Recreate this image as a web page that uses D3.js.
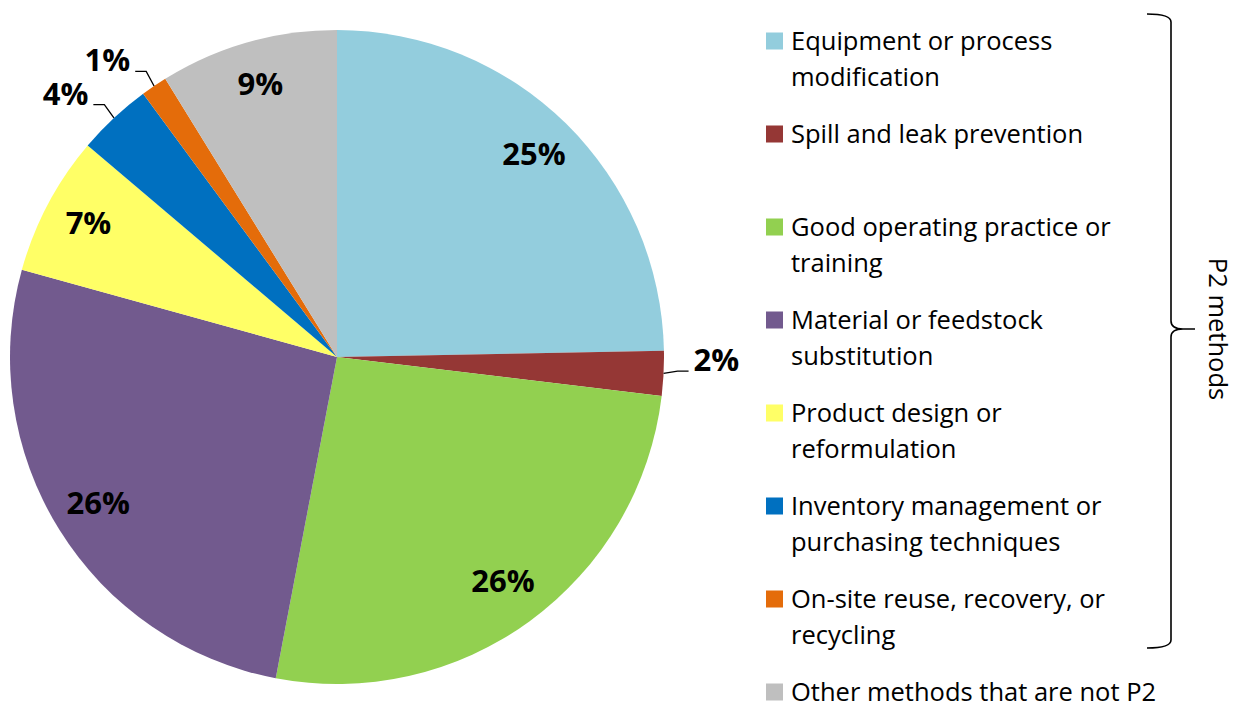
<!DOCTYPE html>
<html>
<head>
<meta charset="utf-8">
<script src="https://cdn.jsdelivr.net/npm/d3@7"></script>
<style>
  html, body { margin: 0; padding: 0; background: #fff; }
  svg { display: block; }
  text { font-family: "Open Sans", Lato, sans-serif; fill: #000; }
</style>
</head>
<body>
<svg id="chart" width="1238" height="704"></svg>
<script>
// ---- data ----
const categories = [
  "Equipment or process modification",
  "Spill and leak prevention",
  "Good operating practice or training",
  "Material or feedstock substitution",
  "Product design or reformulation",
  "Inventory management or purchasing techniques",
  "On-site reuse, recovery, or recycling",
  "Other methods that are not P2"
];
const legendLines = [
  ["Equipment or process", "modification"],
  ["Spill and leak prevention"],
  ["Good operating practice or", "training"],
  ["Material or feedstock", "substitution"],
  ["Product design or", "reformulation"],
  ["Inventory management or", "purchasing techniques"],
  ["On-site reuse, recovery, or", "recycling"],
  ["Other methods that are not P2"]
];
const values = [24.7, 2.2, 26.1, 26.3, 6.9, 3.7, 1.3, 8.8];
const labels = ["25%", "2%", "26%", "26%", "7%", "4%", "1%", "9%"];
const outsideLabel = [false, true, false, false, false, true, true, false];
const colors = ["#93CDDD", "#953735", "#92D050", "#725A8E", "#FFFF66", "#0070C0", "#E46C0A", "#BFBFBF"];
const bracketLabel = "P2 methods";

// ---- layout ----
const svg = d3.select("#chart");
const cx = 337, cy = 357, R = 327;

const pie = d3.pie().sort(null).value(d => d).startAngle(0).endAngle(2 * Math.PI);
const arcs = pie(values);
const arc = d3.arc().innerRadius(0).outerRadius(R);
const labelArc = d3.arc().innerRadius(R * 0.86).outerRadius(R * 0.86);

const g = svg.append("g").attr("transform", `translate(${cx},${cy})`);

g.selectAll("path.slice")
  .data(arcs)
  .enter().append("path")
  .attr("class", "slice")
  .attr("d", arc)
  .attr("fill", (d, i) => colors[i]);

// inside labels
g.selectAll("text.inlabel")
  .data(arcs.filter((d, i) => !outsideLabel[i]))
  .enter().append("text")
  .attr("class", "inlabel")
  .attr("transform", d => `translate(${labelArc.centroid(d)})`)
  .attr("text-anchor", "middle")
  .attr("dy", "0.27em")
  .style("font-size", "31px")
  .style("font-weight", "bold")
  .text(d => labels[d.index]);

// outside labels with leader lines
const outs = arcs.filter((d, i) => outsideLabel[i]);
outs.forEach(d => {
  const mid = (d.startAngle + d.endAngle) / 2;
  const p0 = [R * Math.sin(mid), -R * Math.cos(mid)];
  const re = R + 14;
  const p1 = [re * Math.sin(mid), -re * Math.cos(mid) - 3];
  const side = Math.sin(mid) >= 0 ? 1 : -1;
  const p2 = [p1[0] + side * 11, p1[1]];
  g.append("path")
    .attr("d", d3.line()([p0, p1, p2]))
    .attr("fill", "none")
    .attr("stroke", "#000")
    .attr("stroke-width", 1.3);
  g.append("text")
    .attr("x", p2[0] + side * 5)
    .attr("y", p2[1])
    .attr("text-anchor", side > 0 ? "start" : "end")
    .style("font-size", "31px")
    .style("font-weight", "bold")
    .text(labels[d.index]);
});

// ---- legend ----
const legendY = d3.scaleLinear().domain([0, categories.length - 1]).range([41, 692]);
const lg = svg.append("g");
const sw = 17, swX = 766, txX = 791, lineH = 36;
const items = lg.selectAll("g.item").data(categories).enter().append("g").attr("class", "item");
items.append("rect")
  .attr("x", swX)
  .attr("y", (d, i) => legendY(i) - sw / 2)
  .attr("width", sw).attr("height", sw)
  .attr("fill", (d, i) => colors[i]);
items.each(function(d, i) {
  const t = d3.select(this).append("text")
    .attr("x", txX)
    .attr("y", legendY(i) + 8.5)
    .style("font-size", "25.5px");
  legendLines[i].forEach((ln, k) => {
    t.append("tspan").attr("x", txX).attr("dy", k === 0 ? 0 : lineH).text(ln);
  });
});

// ---- bracket ----
const bx = 1171, bTop = 14, bBot = 648, bMid = (legendY(0) + legendY(6)) / 2 + 9;
const bp = d3.path();
bp.moveTo(bx - 24, bTop);
bp.quadraticCurveTo(bx, bTop, bx, bTop + 8);
bp.lineTo(bx, bMid - 8);
bp.quadraticCurveTo(bx, bMid, bx + 12, bMid);
bp.lineTo(bx + 24, bMid);
bp.moveTo(bx + 12, bMid);
bp.quadraticCurveTo(bx, bMid, bx, bMid + 8);
bp.lineTo(bx, bBot - 8);
bp.quadraticCurveTo(bx, bBot, bx - 24, bBot);
svg.append("path")
  .attr("d", bp.toString())
  .attr("fill", "none")
  .attr("stroke", "#000")
  .attr("stroke-width", 1.6);

svg.append("text")
  .attr("transform", `translate(1209,${bMid}) rotate(90)`)
  .attr("text-anchor", "middle")
  .style("font-size", "25.5px")
  .text(bracketLabel);
</script>
</body>
</html>
